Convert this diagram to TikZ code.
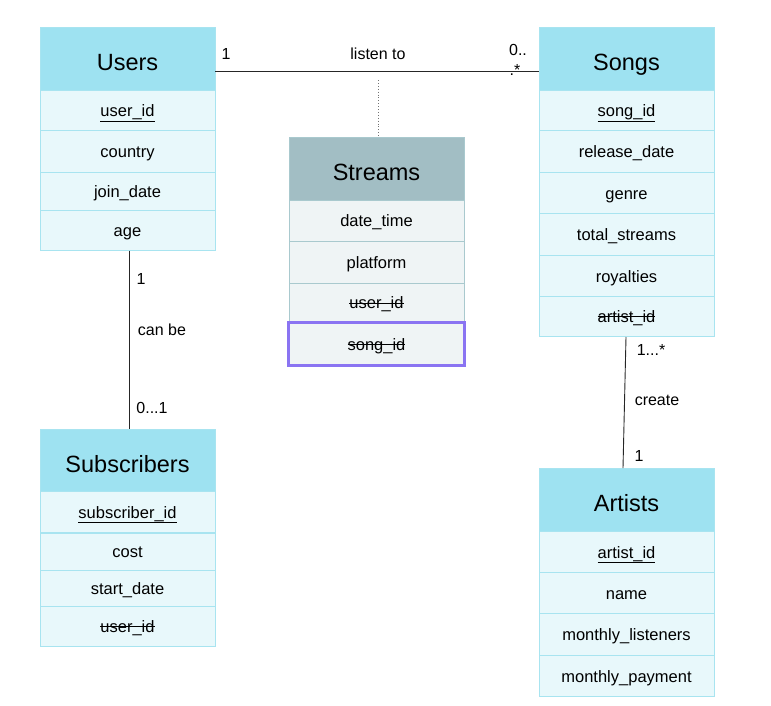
\documentclass[tikz,border=0pt]{standalone}
\usepackage{fontspec}
\setmainfont{Liberation Sans}
\newcommand{\keyul}[1]{\underline{#1}}
\newcommand{\fkstrike}[1]{\setbox0\hbox{#1}\rlap{\box0}\setbox0\hbox{#1}\rule[0.3em]{\wd0}{0.06em}}
\definecolor{hdrc}{HTML}{9EE2F1}
\definecolor{rowc}{HTML}{E8F8FB}
\definecolor{bordc}{HTML}{A8E4F0}
\definecolor{shdrc}{HTML}{A2BEC4}
\definecolor{srowc}{HTML}{EFF4F5}
\definecolor{sbordc}{HTML}{A9C9CE}
\definecolor{purp}{HTML}{8A74F2}
\begin{document}
\begin{tikzpicture}[x=1pt,y=-1pt,
  hdrtext/.style={inner sep=0pt,minimum width=175pt,text height=23pt,text depth=0pt,font=\fontsize{23.5}{26}\selectfont},
  rowtext/.style={inner sep=0pt,minimum width=175pt,text height=12pt,text depth=0pt,font=\fontsize{16.5}{19}\selectfont},
  hdr/.style={hdrtext,draw=bordc,fill=hdrc},
  row/.style={rowtext,draw=bordc,fill=rowc},
  shdr/.style={hdrtext,draw=sbordc,fill=shdrc},
  srow/.style={rowtext,draw=sbordc,fill=srowc},
  lbl/.style={inner sep=1pt,font=\fontsize{16}{19}\selectfont},
  conn/.style={draw=black!85,line width=0.9pt}]
\useasboundingbox (0,0) rectangle (771,705);
% Users
\node[hdr,minimum height=63pt] (users) at (127.5,59) {Users};
\node[row,minimum height=40pt] (u1) at (127.5,110.5) {\keyul{user\_id}};
\node[row,minimum height=42pt] (u2) at (127.5,151.5) {country};
\node[row,minimum height=38pt] (u3) at (127.5,191.5) {join\_date};
\node[row,minimum height=40pt] (u4) at (127.5,230.5) {age};
% Subscribers
\node[hdr,minimum height=62pt] (subs) at (127.5,460.5) {Subscribers};
\node[row,minimum height=41pt] (s1) at (127.5,512) {\keyul{subscriber\_id}};
\node[row,minimum height=37pt] (s2) at (127.5,551.5) {cost};
\node[row,minimum height=36pt] (s3) at (127.5,588) {start\_date};
\node[row,minimum height=40pt] (s4) at (127.5,626) {\fkstrike{user\_id}};
% Streams
\node[shdr,minimum height=63pt] (streams) at (376.5,168.5) {Streams};
\node[srow,minimum height=41pt] (t1) at (376.5,220.5) {date\_time};
\node[srow,minimum height=42pt] (t2) at (376.5,262) {platform};
\node[srow,minimum height=39pt] (t3) at (376.5,302.5) {\fkstrike{user\_id}};
\node[srow,draw=purp,line width=2.6pt,minimum width=176pt,minimum height=43pt] (t4) at (376.5,344) {\fkstrike{song\_id}};
% Songs
\node[hdr,minimum height=63pt] (songs) at (626.5,59) {Songs};
\node[row,minimum height=40pt] (g1) at (626.5,110.5) {\keyul{song\_id}};
\node[row,minimum height=42pt] (g2) at (626.5,151.5) {release\_date};
\node[row,minimum height=41pt] (g3) at (626.5,193) {genre};
\node[row,minimum height=42pt] (g4) at (626.5,234.5) {total\_streams};
\node[row,minimum height=41pt] (g5) at (626.5,276) {royalties};
\node[row,minimum height=40pt] (g6) at (626.5,316) {\fkstrike{artist\_id}};
% Artists
\node[hdr,minimum height=63pt] (artists) at (626.5,500) {Artists};
\node[row,minimum height=41pt] (a1) at (626.5,552) {\keyul{artist\_id}};
\node[row,minimum height=41pt] (a2) at (626.5,593) {name};
\node[row,minimum height=42pt] (a3) at (626.5,634.5) {monthly\_listeners};
\node[row,minimum height=41pt] (a4) at (626.5,676) {monthly\_payment};
% connectors
\coordinate (dtop) at (378,80);
\draw[conn] (users.east |- 0,71) -- (songs.west |- 0,71);
\draw[draw=black!55,line width=0.9pt,dotted] (dtop) -- (streams.north -| dtop);
\node[lbl] (l1) at (226,54) {1};
\node[lbl] (lt) at (378,54) {listen to};
\node[lbl] (l0) at (518,50) {0..};
\node[lbl] (ls) at (515,70) {.*};
\draw[conn] (u4.south -| 129,0) -- (subs.north -| 129,0);
\node[lbl] (c1) at (141,279) {1};
\node[lbl] (cb) at (162,330) {can be};
\node[lbl] (c01) at (152,408) {0...1};
\coordinate (ctop) at (626,337);
\coordinate (cbot) at (623,468);
\draw[conn] (ctop) -- (cbot);
\node[lbl] (r1) at (651,350) {1...*};
\node[lbl] (rc) at (657,400) {create};
\node[lbl] (r2) at (639,456) {1};
\end{tikzpicture}
\end{document}
